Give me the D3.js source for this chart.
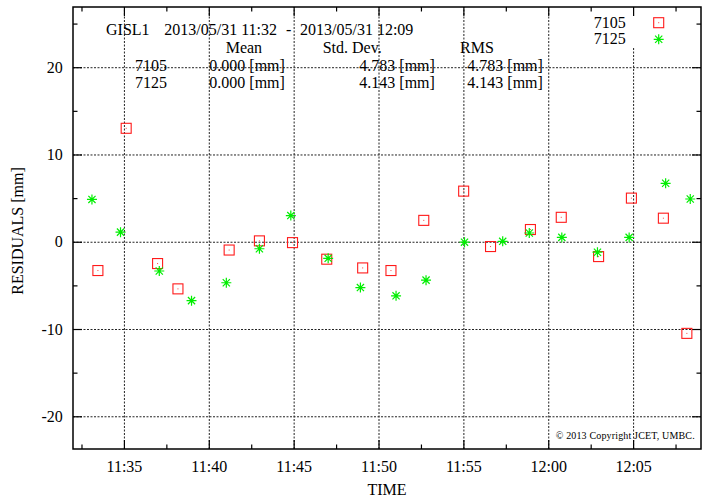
<!DOCTYPE html>
<html><head><meta charset="utf-8">
<script src="https://cdn.jsdelivr.net/npm/d3@7/dist/d3.min.js"></script>
<style>
body{margin:0;background:#fff}
text{font-family:"Liberation Serif","Times New Roman",serif;fill:#000}
</style>
</head><body>
<svg id="c" width="702" height="498"></svg>
<script>
// ---- data ----
const day = "2013-05-31";
const times7105 = ["11:33:28","11:35:08","11:36:59","11:38:11","11:41:12","11:42:59","11:44:56","11:46:57","11:49:04","11:50:44","11:52:40","11:55:01","11:56:36","11:58:57","12:00:46","12:02:58","12:04:54","12:06:47","12:08:10"];
const res7105 = [-3.3,13.0,-2.5,-5.4,-0.95,0.1,-0.1,-2.0,-3.0,-3.3,2.45,5.8,-0.55,1.4,2.8,-1.7,5.0,2.7,-10.5];
const times7125 = ["11:33:07","11:34:48","11:37:05","11:38:59","11:41:02","11:42:59","11:44:50","11:47:02","11:48:56","11:51:02","11:52:48","11:55:04","11:57:19","11:58:53","12:00:48","12:02:54","12:04:46","12:06:55","12:08:22"];
const res7125 = [4.85,1.1,-3.35,-6.75,-4.7,-0.8,3.0,-1.9,-5.25,-6.2,-4.4,-0.05,0.05,1.0,0.5,-1.2,0.5,6.7,4.9];
const xTickTimes = ["11:35","11:40","11:45","11:50","11:55","12:00","12:05"];
const xTickLabels = ["11:35","11:40","11:45","11:50","11:55","12:00","12:05"];
const xMinorTimes = ["11:32:30","11:37:30","11:42:30","11:47:30","11:52:30","11:57:30","12:02:30","12:07:30"];
const yTicks = [-20,-10,0,10,20];
const yTickLabels = ["-20","-10","0","10","20"];
const yMinor = [-15,-5,5,15,25];
const timeDomain = ["11:32:00","12:09:00"];
const resDomain = [-23.75,26.9];
const seriesNames = ["7105","7125"];
const statsMean = ["0.000 [mm]","0.000 [mm]"];
const statsStd = ["4.783 [mm]","4.143 [mm]"];
const statsRms = ["4.783 [mm]","4.143 [mm]"];
const titleStation = "GISL1";
const titleStart = "2013/05/31 11:32";
const titleEnd = "2013/05/31 12:09";

// ---- layout ----
const L=73,R=701,T=7,B=449;
const parse = d3.timeParse("%Y-%m-%d %H:%M:%S");
const pt = s => parse(day+" "+(s.length===5? s+":00" : s));
const x = d3.scaleTime().domain(timeDomain.map(pt)).range([L,R]);
const y = d3.scaleLinear().domain(resDomain).range([B,T]);
const svg = d3.select("#c");
const FS = 16;

// grid
const gridX = svg.append("g").attr("transform",`translate(0,${B})`)
  .call(d3.axisBottom(x).tickValues(xTickTimes.map(pt)).tickSize(-(B-T)).tickFormat(""));
const gridY = svg.append("g").attr("transform",`translate(${L},0)`)
  .call(d3.axisLeft(y).tickValues(yTicks).tickSize(-(R-L)).tickFormat(""));
[gridX,gridY].forEach(g=>{
  g.select(".domain").remove();
  g.selectAll("line").attr("stroke","#222").attr("stroke-width",1).attr("stroke-dasharray","2,1.5");
});

// legend background
svg.append("rect").attr("x",575).attr("y",T+1).attr("width",R-576).attr("height",40).attr("fill","#fff");

// axes: major + minor ticks on all four sides
function styleAxis(g){ g.select(".domain").remove(); g.selectAll("line").attr("stroke","#000").attr("stroke-width",1.2); g.selectAll("text").attr("font-size",FS).attr("font-family","Liberation Serif"); }
const xb = svg.append("g").attr("transform",`translate(0,${B})`)
  .call(d3.axisBottom(x).tickValues(xTickTimes.map(pt)).tickSize(-9).tickPadding(11.5).tickFormat((d,i)=>xTickLabels[i]));
styleAxis(xb);
styleAxis(svg.append("g").attr("transform",`translate(0,${B})`)
  .call(d3.axisBottom(x).tickValues(xMinorTimes.map(pt)).tickSize(-4.5).tickFormat("")));
styleAxis(svg.append("g").attr("transform",`translate(0,${T})`)
  .call(d3.axisTop(x).tickValues(xTickTimes.map(pt)).tickSize(-9).tickFormat("")));
styleAxis(svg.append("g").attr("transform",`translate(0,${T})`)
  .call(d3.axisTop(x).tickValues(xMinorTimes.map(pt)).tickSize(-4.5).tickFormat("")));
const yl = svg.append("g").attr("transform",`translate(${L},0)`)
  .call(d3.axisLeft(y).tickValues(yTicks).tickSize(-9).tickPadding(10.3).tickFormat((d,i)=>yTickLabels[i]));
styleAxis(yl);
styleAxis(svg.append("g").attr("transform",`translate(${L},0)`)
  .call(d3.axisLeft(y).tickValues(yMinor).tickSize(-4.5).tickFormat("")));
styleAxis(svg.append("g").attr("transform",`translate(${R},0)`)
  .call(d3.axisRight(y).tickValues(yTicks).tickSize(-9).tickFormat("")));
styleAxis(svg.append("g").attr("transform",`translate(${R},0)`)
  .call(d3.axisRight(y).tickValues(yMinor).tickSize(-4.5).tickFormat("")));

// frame
svg.append("rect").attr("x",L).attr("y",T).attr("width",R-L).attr("height",B-T)
  .attr("fill","none").attr("stroke","#000").attr("stroke-width",1.5);

// axis titles
svg.append("text").attr("x",387).attr("y",495).attr("text-anchor","middle").attr("font-size",FS).text("TIME");
svg.append("text").attr("transform","translate(23,231) rotate(-90)").attr("text-anchor","middle").attr("font-size",FS).text("RESIDUALS [mm]");

// header texts
const hdr = svg.append("g").attr("font-size",FS);
hdr.append("text").attr("x",106).attr("y",35).text(titleStation);
hdr.append("text").attr("x",164.3).attr("y",35).text(titleStart);
hdr.append("text").attr("x",286).attr("y",35).text("-");
hdr.append("text").attr("x",300).attr("y",35).text(titleEnd);
hdr.append("text").attr("x",225.7).attr("y",52.5).text("Mean");
hdr.append("text").attr("x",322.7).attr("y",52.5).text("Std. Dev.");
hdr.append("text").attr("x",460).attr("y",52.5).text("RMS");
const rowY=[70.5,87.5];
seriesNames.forEach((n,i)=>{
  hdr.append("text").attr("x",135).attr("y",rowY[i]).text(n);
  hdr.append("text").attr("x",209.3).attr("y",rowY[i]).text(statsMean[i]);
  hdr.append("text").attr("x",359.3).attr("y",rowY[i]).text(statsStd[i]);
  hdr.append("text").attr("x",467.3).attr("y",rowY[i]).text(statsRms[i]);
});

// markers
function square(g,cx,cy){
  g.append("rect").attr("x",cx-5).attr("y",cy-5).attr("width",10).attr("height",10)
    .attr("fill","none").attr("stroke","#ff1a1a").attr("stroke-width",1.1);
  g.append("rect").attr("x",cx-0.5).attr("y",cy-0.5).attr("width",1).attr("height",1).attr("fill","#ff4040");
}
function star(g,cx,cy){
  g.append("path").attr("transform",`translate(${cx},${cy})`)
    .attr("d","M-5,0H5M0,-5V5M-3.6,-3.6L3.6,3.6M-3.6,3.6L3.6,-3.6")
    .attr("stroke","#00ee00").attr("stroke-width",1.2).attr("fill","none");
}
const gA = svg.append("g"), gB = svg.append("g");
times7105.forEach((t,i)=>square(gA,x(pt(t)),y(res7105[i])));
times7125.forEach((t,i)=>star(gB,x(pt(t)),y(res7125[i])));

// legend
const lg = svg.append("g").attr("font-size",FS);
lg.append("text").attr("x",625.7).attr("y",27.5).attr("text-anchor","end").text(seriesNames[0]);
lg.append("text").attr("x",625.7).attr("y",44).attr("text-anchor","end").text(seriesNames[1]);
square(lg,658.7,22.7);
star(lg,658.7,39.3);

// copyright
svg.append("text").attr("x",555.7).attr("y",439).attr("font-size",10).attr("textLength",139)
  .text("\u00A9  2013 Copyright JCET, UMBC.");
</script>
</body></html>
